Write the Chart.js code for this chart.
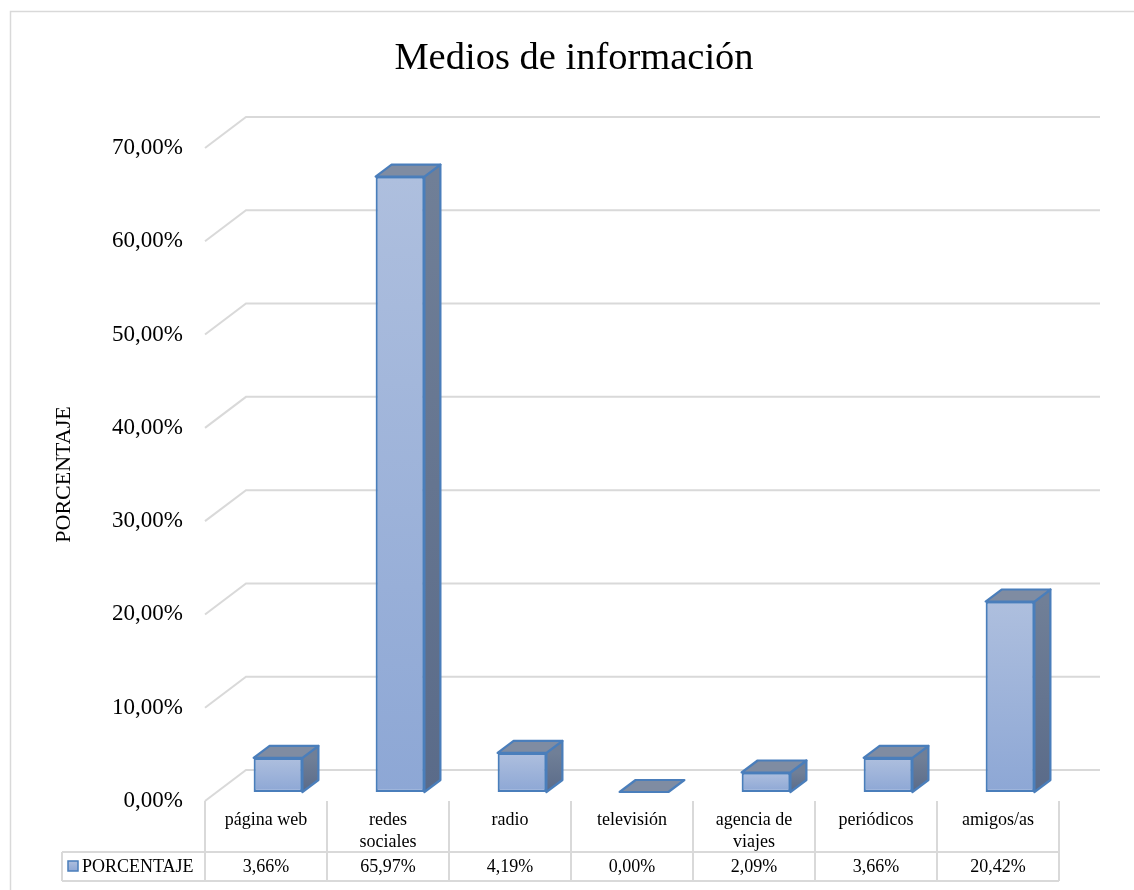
<!DOCTYPE html>
<html lang="es">
<head>
<meta charset="utf-8">
<title>Medios de información</title>
<script src="https://cdn.jsdelivr.net/npm/chart.js@4.4.1/dist/chart.umd.min.js"></script>
<style>
  html, body { margin: 0; padding: 0; background: #fff; overflow: hidden; }
  canvas { display: block; }
</style>
</head>
<body>
<canvas id="grafico" width="1134" height="890"></canvas>
<script>
// datos del gráfico
const categorias = ['página web', ['redes', 'sociales'], 'radio', 'televisión', ['agencia de', 'viajes'], 'periódicos', 'amigos/as'];
const porcentajes = [3.66, 65.97, 4.19, 0.00, 2.09, 3.66, 20.42];
const serie = 'PORCENTAJE';
const marcasY = [0, 10, 20, 30, 40, 50, 60, 70];

const SERIF = "'Liberation Serif', 'Times New Roman', serif";
const GRIS = '#D9D9D9';
const AZUL = '#4A7EBB';
const fondo = { dx: 41, dy: -31 };   // desplazamiento de la pared del fondo
const frente = { dx: 12, dy: -9 };   // plano donde se apoya la cara frontal de las barras
const prof = { dx: 16, dy: -12 };    // grosor de cada barra

function fmt(v) {
  return v.toFixed(2).replace('.', ',') + '%';
}

function degradado(ctx, top, bottom, c1, c2) {
  const g = ctx.createLinearGradient(0, top, 0, bottom);
  g.addColorStop(0, c1);
  g.addColorStop(1, c2);
  return g;
}

function dibujarTabla(chart) {
  const { ctx, chartArea: a, scales: { x } } = chart;
  const n = categorias.length;
  const celda = (a.right - a.left) / n;
  const arriba = a.bottom, medio = a.bottom + 51, abajo = a.bottom + 80;
  const izq = 62;

  ctx.save();
  ctx.strokeStyle = GRIS;
  ctx.lineWidth = 2;
  ctx.beginPath();
  ctx.moveTo(izq, medio); ctx.lineTo(a.right, medio);
  ctx.moveTo(izq, abajo); ctx.lineTo(a.right, abajo);
  ctx.moveTo(izq, medio); ctx.lineTo(izq, abajo);
  for (let i = 0; i <= n; i++) {
    const px = a.left + i * celda;
    ctx.moveTo(px, arriba);
    ctx.lineTo(px, abajo);
  }
  ctx.stroke();

  ctx.fillStyle = '#000';
  ctx.font = '18px ' + SERIF;
  ctx.textAlign = 'center';
  ctx.textBaseline = 'middle';
  categorias.forEach((c, i) => {
    const cx = x.getPixelForValue(i);
    const lineas = Array.isArray(c) ? c : [c];
    lineas.forEach((t, j) => ctx.fillText(t, cx, arriba + 19 + j * 22));
    ctx.fillText(fmt(porcentajes[i]), cx, medio + 15);
  });

  // clave de la serie
  ctx.fillStyle = degradado(ctx, medio + 9, medio + 19, '#AEBFDE', '#8DA7D5');
  ctx.fillRect(68, medio + 9, 10, 10);
  ctx.strokeStyle = AZUL;
  ctx.lineWidth = 1.5;
  ctx.strokeRect(68, medio + 9, 10, 10);
  ctx.fillStyle = '#000';
  ctx.textAlign = 'left';
  ctx.fillText(serie, 82, medio + 15);
  ctx.restore();
}

const barras3d = {
  id: 'barras3d',
  beforeDraw(chart) {
    const { ctx, width, height } = chart;
    ctx.save();
    ctx.fillStyle = '#fff';
    ctx.fillRect(0, 0, width, height);
    ctx.strokeStyle = GRIS;
    ctx.lineWidth = 1.5;
    ctx.strokeRect(10.5, 11.5, width + 20, height + 20);
    ctx.restore();
  },
  beforeDatasetsDraw(chart) {
    const { ctx, chartArea: a, scales: { y } } = chart;
    // líneas de división en la pared del fondo
    ctx.save();
    ctx.strokeStyle = GRIS;
    ctx.lineWidth = 2;
    y.ticks.forEach(t => {
      const py = y.getPixelForValue(t.value);
      ctx.beginPath();
      ctx.moveTo(a.left, py);
      ctx.lineTo(a.left + fondo.dx, py + fondo.dy);
      ctx.lineTo(a.right + fondo.dx, py + fondo.dy);
      ctx.stroke();
    });
    ctx.restore();
    // las caras frontales se dibujan algo hacia dentro
    ctx.save();
    ctx.translate(frente.dx, frente.dy);
  },
  afterDatasetsDraw(chart) {
    const { ctx } = chart;
    ctx.restore();
    const meta = chart.getDatasetMeta(0);
    ctx.save();
    ctx.translate(frente.dx, frente.dy);
    ctx.lineJoin = 'round';
    ctx.lineWidth = 2.2;
    ctx.strokeStyle = AZUL;
    meta.data.forEach(bar => {
      const { x, y, base, width } = bar.getProps(['x', 'y', 'base', 'width'], true);
      const l = x - width / 2, r = x + width / 2;
      // cara lateral
      if (base - y > 0.5) {
        ctx.beginPath();
        ctx.moveTo(r, y);
        ctx.lineTo(r + prof.dx, y + prof.dy);
        ctx.lineTo(r + prof.dx, base + prof.dy);
        ctx.lineTo(r, base);
        ctx.closePath();
        ctx.fillStyle = degradado(ctx, y, base, '#707F97', '#5A6B89');
        ctx.fill();
        ctx.stroke();
      }
      // cara superior
      ctx.beginPath();
      ctx.moveTo(l, y);
      ctx.lineTo(l + prof.dx, y + prof.dy);
      ctx.lineTo(r + prof.dx, y + prof.dy);
      ctx.lineTo(r, y);
      ctx.closePath();
      ctx.fillStyle = '#7F8CA2';
      ctx.fill();
      ctx.stroke();
    });
    ctx.restore();
    dibujarTabla(chart);
  }
};

new Chart(document.getElementById('grafico'), {
  type: 'bar',
  data: {
    labels: categorias,
    datasets: [{
      label: serie,
      data: porcentajes,
      backgroundColor(c) {
        const chart = c.chart;
        if (!chart.chartArea || c.type !== 'data') return '#9DB3DA';
        const y = chart.scales.y;
        return degradado(chart.ctx, y.getPixelForValue(c.parsed.y), y.getPixelForValue(0), '#AEBFDE', '#8DA7D5');
      },
      borderColor: AZUL,
      borderWidth: 2.2,
      borderSkipped: false,
      barPercentage: 0.4,
      categoryPercentage: 1,
      clip: false
    }]
  },
  options: {
    responsive: false,
    animation: false,
    layout: { padding: { left: 14, right: 0, top: 0, bottom: 89 } },
    plugins: {
      legend: { display: false },
      tooltip: { enabled: false },
      title: {
        display: true,
        text: 'Medios de información',
        color: '#000',
        font: { family: SERIF, size: 38.5, weight: 'normal' },
        padding: { top: 36, bottom: 65.8 }
      }
    },
    scales: {
      x: {
        display: false
      },
      y: {
        min: 0,
        max: 70,
        afterBuildTicks(scale) {
          scale.ticks = marcasY.map(v => ({ value: v }));
        },
        afterFit(scale) {
          scale.width = 191;
        },
        border: { display: false },
        grid: { display: false, drawTicks: false },
        ticks: {
          padding: 22,
          color: '#000',
          font: { family: SERIF, size: 23 },
          callback: v => fmt(v)
        },
        title: {
          display: true,
          text: serie,
          color: '#000',
          font: { family: SERIF, size: 22, weight: 'normal' },
          padding: { top: 37, bottom: 0 }
        }
      },
      // margen derecho donde sobresale la pared del fondo
      margen: {
        type: 'linear',
        position: 'right',
        display: true,
        afterFit(scale) {
          scale.width = 75;
        },
        border: { display: false },
        grid: { display: false, drawTicks: false },
        ticks: { display: false }
      }
    }
  },
  plugins: [barras3d]
});
</script>
</body>
</html>
